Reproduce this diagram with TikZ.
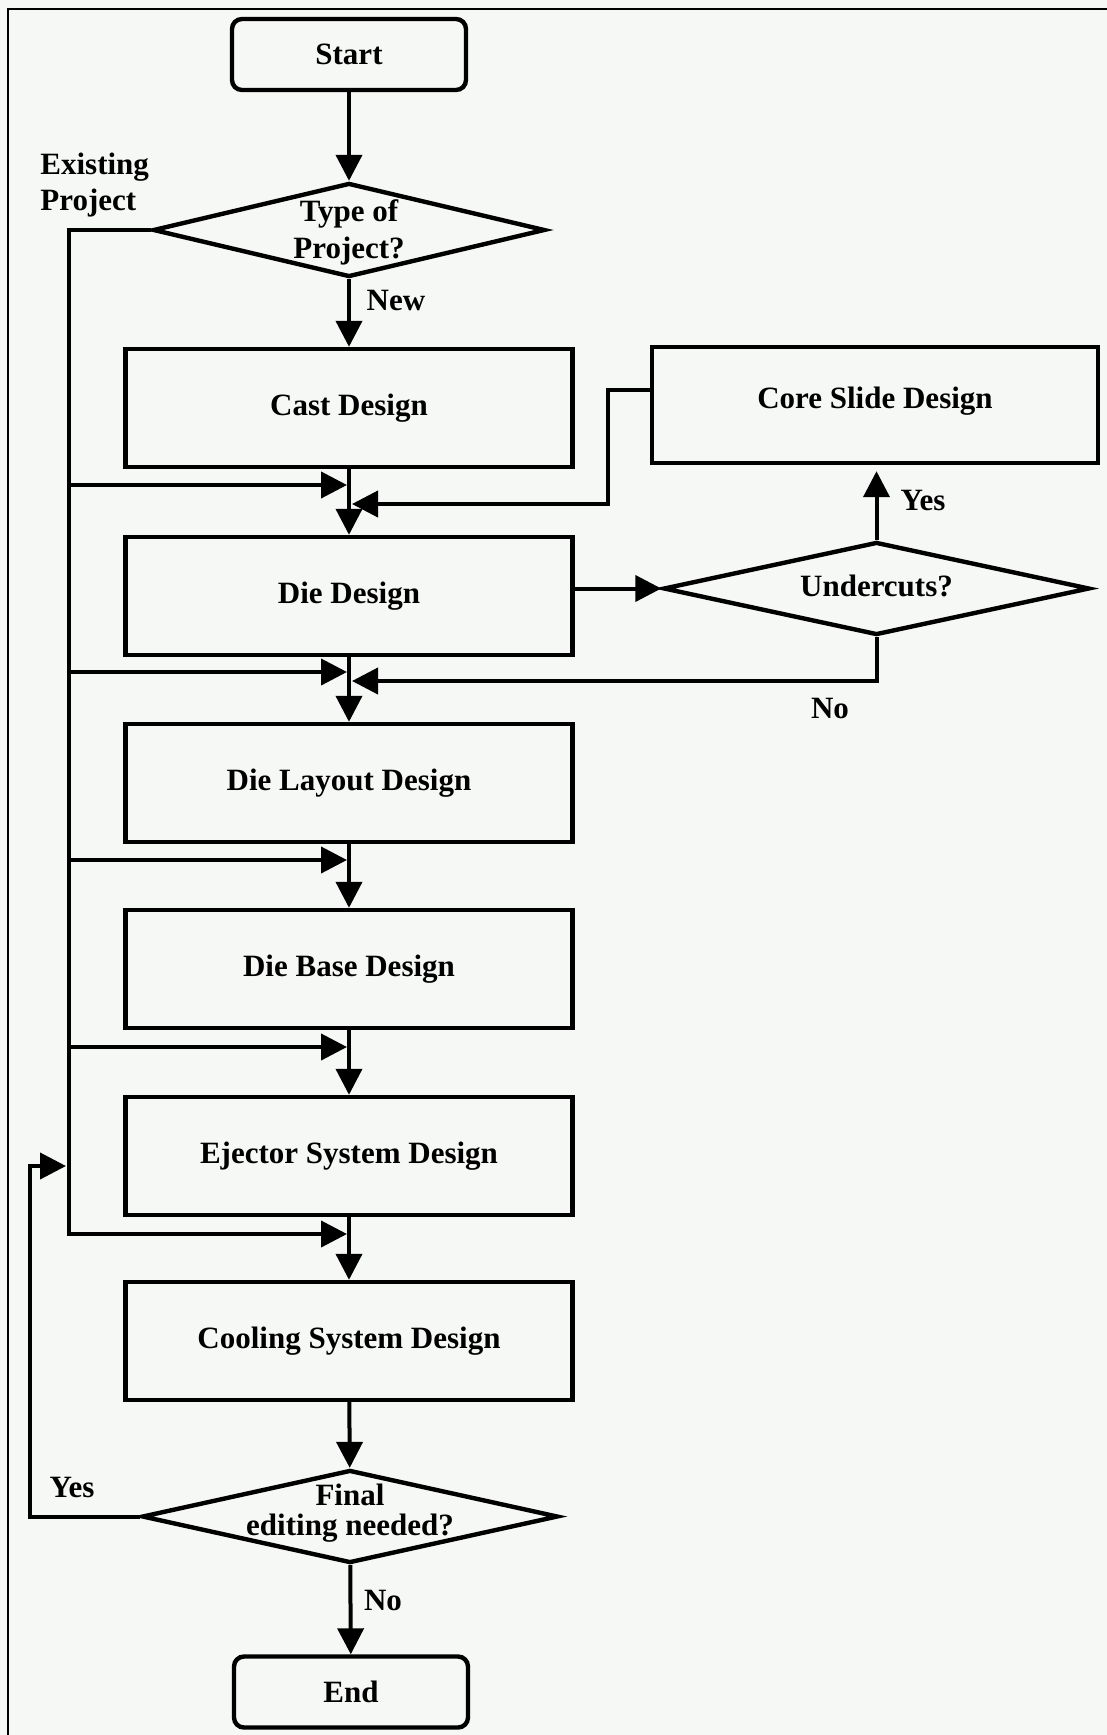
\documentclass[tikz,border=0pt]{standalone}
\usepackage{fontspec}
\setmainfont{Liberation Serif}
\usetikzlibrary{arrows.meta,shapes.geometric}
\definecolor{paper}{RGB}{246,248,245}

\tikzset{
  stepbox/.style={draw, line width=2.2pt, minimum width=223.5pt, minimum height=59pt, inner sep=0pt},
  termbox/.style={draw, line width=2.2pt, rounded corners=5pt, minimum width=117pt, minimum height=35.5pt, inner sep=0pt},
  decision/.style={draw, diamond, line width=2.2pt, inner sep=0pt},
  txt/.style={font=\bfseries\fontsize{15.5}{18.5}\selectfont, inner sep=0pt},
  wire/.style={line width=2pt},
  arr/.style={line width=2pt, -{Triangle[length=13pt,width=13pt]}},
}

\begin{document}
\begin{tikzpicture}[x=0.5pt,y=-0.5pt]
  % page and frame
  \fill[paper] (0,0) rectangle (1107,1735);
  \useasboundingbox (0,0) rectangle (1107,1735);
  \draw[line width=1.3pt] (8,1735) -- (8,9) -- (1107,9);

  % main column
  \node[termbox, txt] (start) at (349,54.5) {Start};
  \node[decision, minimum width=196pt, minimum height=47pt] (type) at (349,230) {};
  \node[txt, align=center, font=\bfseries\fontsize{15.5}{18.3}\selectfont] (typet) at (349,232.5) {Type of\\Project?};

  \node[stepbox, txt] (cast)  at (349,408)  {Cast Design};
  \node[stepbox, txt] (die)   at (349,596)  {Die Design};
  \node[stepbox, txt] (lay)   at (349,783)  {Die Layout Design};
  \node[stepbox, txt] (base)  at (349,969)  {Die Base Design};
  \node[stepbox, txt] (eject) at (349,1156) {Ejector System Design};
  \node[stepbox, txt] (cool)  at (349,1341) {Cooling System Design};

  \node[decision, minimum width=208pt, minimum height=46.5pt] (fin) at (350,1516.5) {};
  \node[txt, align=center, font=\bfseries\fontsize{15.5}{15}\selectfont] (fint) at (350,1513) {Final\\editing needed?};
  \node[termbox, txt] (end) at (351,1692) {End};

  % side branch
  \node[stepbox, txt, minimum width=223pt, minimum height=58pt] (core) at (875,405) {};
  \node[txt] (coret) at (875,401.5) {Core Slide Design};
  \node[decision, minimum width=213pt, minimum height=46.5pt] (und) at (876.5,588.5) {};
  \node[txt] (undt) at (876.5,586) {Undercuts?};

  % branch labels
  \node[txt, align=left, anchor=west, font=\bfseries\fontsize{15.5}{18}\selectfont] (exist) at (40,185.5) {Existing\\Project};
  \node[txt] (lnew)  at (396,300)  {New};
  \node[txt] (lyes1) at (923,500)  {Yes};
  \node[txt] (lno1)  at (830,708)  {No};
  \node[txt] (lyes2) at (72,1487)  {Yes};
  \node[txt] (lno2)  at (383,1600) {No};

  % merge points on the main column
  \coordinate (m1)  at (349,485);
  \coordinate (m1r) at (349,504);
  \coordinate (m2)  at (349,672);
  \coordinate (m2r) at (349,681);
  \coordinate (m3)  at (349,860);
  \coordinate (m4)  at (349,1047);
  \coordinate (m5)  at (349,1234);

  % bus for existing projects
  \coordinate (b0) at (69,230);
  \coordinate (b1) at (69,485);
  \coordinate (b2) at (69,672);
  \coordinate (b3) at (69,860);
  \coordinate (b4) at (69,1047);
  \coordinate (b5) at (69,1234);
  \coordinate (bl) at (69,1166);

  % main flow
  \draw[arr] (start) -- (type);
  \draw[arr] (type) -- (cast);
  \draw[arr] (cast) -- (die);
  \draw[arr] (die) -- (lay);
  \draw[arr] (lay) -- (base);
  \draw[arr] (base) -- (eject);
  \draw[arr] (eject) -- (cool);
  \draw[arr] (cool) -- (fin);
  \draw[arr] (fin) -- (end);

  % existing project bypass
  \draw[arr, line join=miter] (type.west) -- (b0) -- (b5) -- ([xshift=-1pt]m5);
  \draw[arr] (b1) -- ([xshift=-1pt]m1);
  \draw[arr] (b2) -- ([xshift=-1pt]m2);
  \draw[arr] (b3) -- ([xshift=-1pt]m3);
  \draw[arr] (b4) -- ([xshift=-1pt]m4);

  % undercut check
  \draw[arr] (die.east |- und.west) -- (und.west);
  \draw[arr, shorten >=3pt] (und.north) -- (und.north |- core.south);
  \coordinate (cs) at (652,390);
  \draw[arr, line join=miter] (cs) -- (608,390) -- (608,504) -- ([xshift=1.5pt]m1r);
  \draw[arr, line join=miter] (und.south) -- (876.5,681) -- ([xshift=1.5pt]m2r);

  % editing loop
  \draw[arr, line join=miter] (fin.west) -- (30,1516.5) -- (30,1166) -- ([xshift=-1.5pt]bl);
\end{tikzpicture}
\end{document}
